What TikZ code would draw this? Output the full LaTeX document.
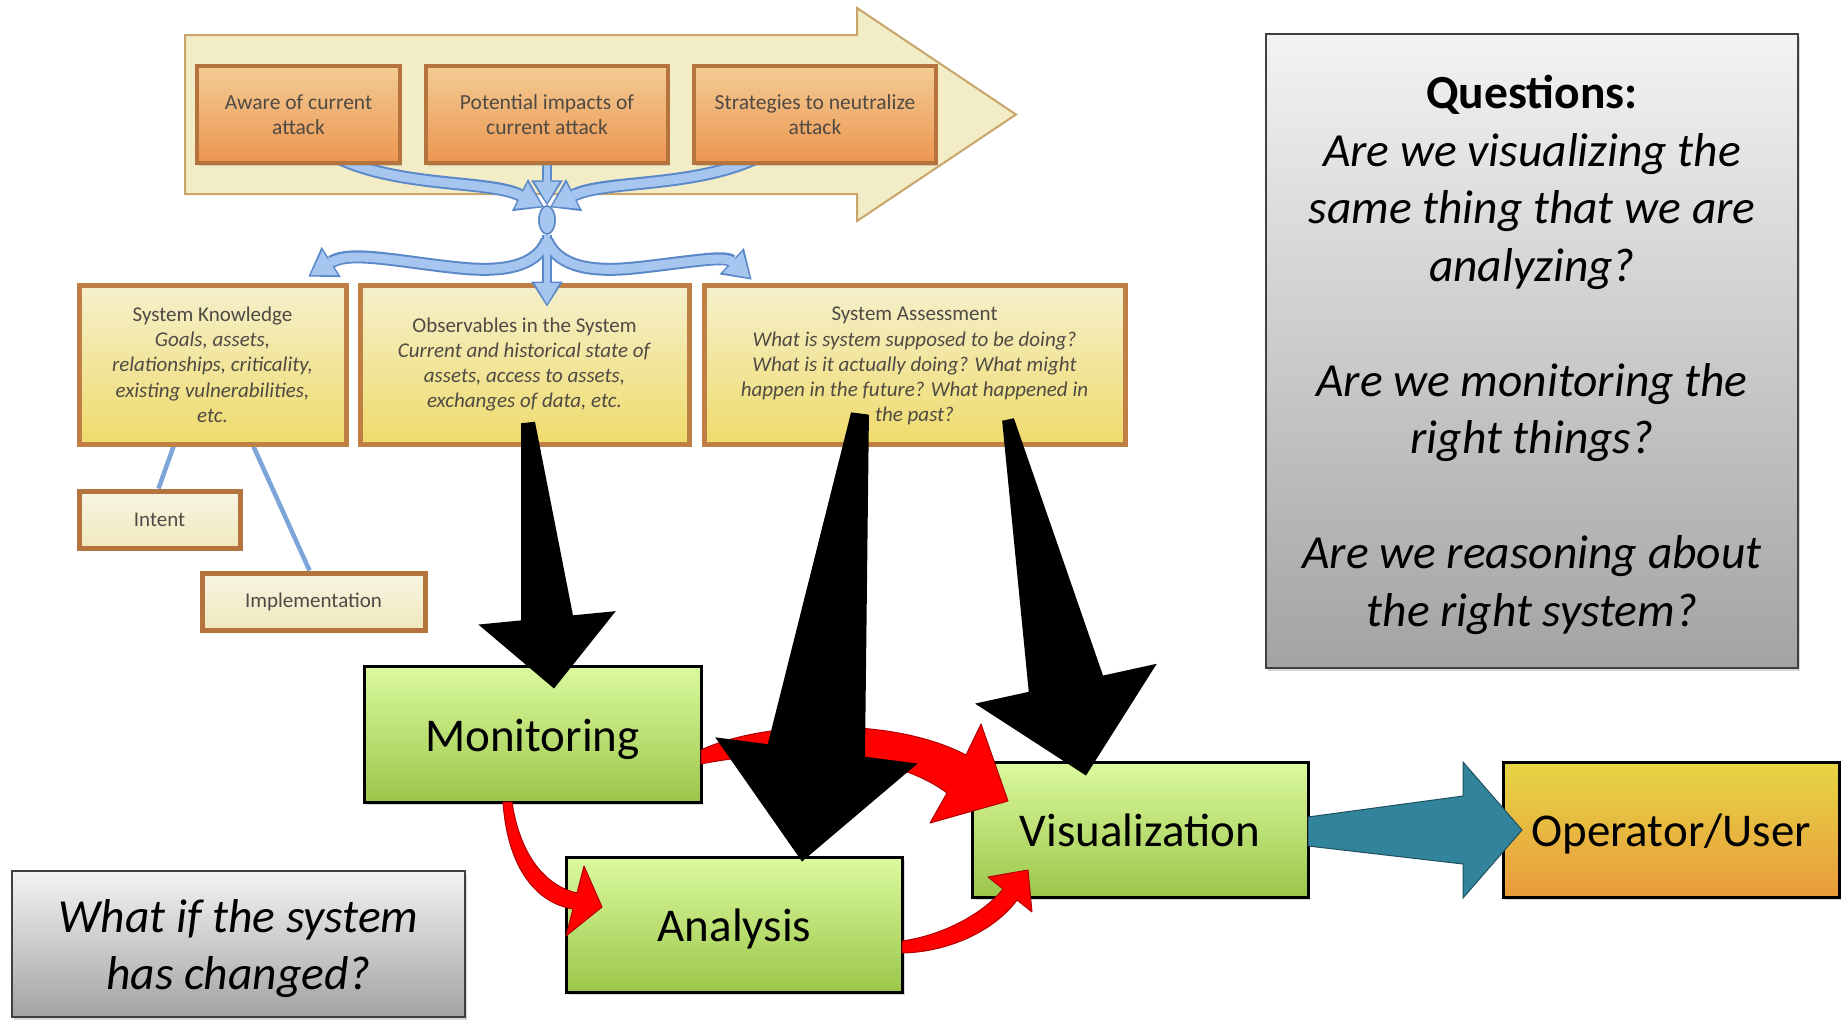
\documentclass[tikz,border=0pt]{standalone}
\usepackage{fontspec}
\setmainfont{Carlito}
\usetikzlibrary{calc,arrows.meta,shadows,shapes.geometric,backgrounds}

\definecolor{arrowfill}{HTML}{F2EDC7}
\definecolor{arrowdraw}{HTML}{C9A56B}
\definecolor{otop}{HTML}{F3CC94}
\definecolor{obot}{HTML}{EC9550}
\definecolor{obrd}{HTML}{B5743E}
\definecolor{ytop}{HTML}{F5F0CC}
\definecolor{ybot}{HTML}{EFDB6C}
\definecolor{ybrd}{HTML}{BF7F45}
\definecolor{ptop}{HTML}{F8F5E2}
\definecolor{pbot}{HTML}{EFE8BD}
\definecolor{bluefill}{HTML}{A6C6F0}
\definecolor{bluedraw}{HTML}{5A88C8}
\definecolor{blueline}{HTML}{7DA5D9}
\definecolor{gtop}{HTML}{DBFA9E}
\definecolor{gbot}{HTML}{9CC64A}
\definecolor{utop}{HTML}{E6D545}
\definecolor{ubot}{HTML}{E99B3B}
\definecolor{tealfill}{HTML}{31849B}
\definecolor{tealdraw}{HTML}{1E5060}
\definecolor{redfill}{HTML}{FF0000}
\definecolor{reddraw}{HTML}{B00000}
\definecolor{qtop}{HTML}{F3F3F3}
\definecolor{qbot}{HTML}{A3A3A3}
\definecolor{qbrd}{HTML}{404040}
\definecolor{txtgray}{HTML}{4F4A44}

% tapered black arrow: start, tip, half width at start, half width at head base,
% half width of head, head length
\newcommand{\fatarrow}[6]{%
  \path (#1) coordinate (fa-s);
  \path (#2) coordinate (fa-t);
  \path ($(fa-t)!#6!(fa-s)$) coordinate (fa-b);
  \fill[black] ($(fa-s)!#3!90:(fa-t)$) -- ($(fa-b)!#4!-90:(fa-s)$)
    -- ($(fa-b)!#5!-90:(fa-s)$) -- (fa-t) -- ($(fa-b)!#5!90:(fa-s)$)
    -- ($(fa-b)!#4!90:(fa-s)$) -- ($(fa-s)!#3!-90:(fa-t)$) -- cycle;}

\begin{document}
\begin{tikzpicture}[x=1pt,y=-1pt,
  softshadow/.style={drop shadow={shadow xshift=2pt,shadow yshift=-3pt,opacity=0.3}},
  bigarrow/.style={fill=arrowfill,draw=arrowdraw,line width=2pt},
  orangebox/.style={draw=obrd,line width=4.5pt,top color=otop,bottom color=obot,
    inner sep=0pt,align=center,text=txtgray,font=\fontsize{21.5}{25}\selectfont,
    minimum height=97pt,softshadow},
  yellowbox/.style={draw=ybrd,line width=5pt,top color=ytop,bottom color=ybot,
    inner sep=0pt,align=center,text=txtgray,font=\fontsize{21}{25.3}\selectfont,
    minimum height=159pt,softshadow},
  palebox/.style={draw=obrd,line width=5pt,top color=ptop,bottom color=pbot,
    inner sep=0pt,align=center,text=txtgray,font=\fontsize{21}{25}\selectfont,
    minimum height=57pt,softshadow},
  greenbox/.style={draw=black,line width=3pt,top color=gtop,bottom color=gbot,
    inner sep=0pt,font=\fontsize{47}{56}\selectfont,text height=34pt,text depth=0pt,
    minimum width=336pt,minimum height=135pt,softshadow},
  userbox/.style={greenbox,top color=utop,bottom color=ubot},
  graybox/.style={draw=qbrd,line width=2pt,top color=qtop,bottom color=qbot,
    inner sep=0pt,softshadow},
  graytext/.style={inner sep=0pt,align=center,font=\fontsize{47.5}{57.5}\selectfont},
  blueouter/.style={line width=13pt,draw=bluedraw,
    -{Triangle[length=27pt,width=36pt,line width=0pt]}},
  blueinner/.style={line width=9pt,draw=bluefill,
    -{Triangle[length=23pt,width=29pt,line width=0pt]},shorten >=2.5pt},
  thinouter/.style={line width=10pt,draw=bluedraw,
    -{Triangle[length=25pt,width=32pt,line width=0pt]}},
  thininner/.style={line width=6pt,draw=bluefill,
    -{Triangle[length=21pt,width=25pt,line width=0pt]},shorten >=2.5pt},
  blueconn/.style={draw=blueline,line width=4.5pt},
  redarrow/.style={fill=redfill,draw=reddraw,line width=1pt,line join=round},
  tealarrow/.style={fill=tealfill,draw=tealdraw,line width=1pt}]

\useasboundingbox (0,0) rectangle (1841,1020);

\begin{scope}[on background layer]
  \fill[white] (0,0) rectangle (1841,1020);
  % large process arrow behind the three attack steps
  \filldraw[bigarrow] (185,35) -- (857,35) -- (857,8) -- (1016,114.5)
    -- (857,221) -- (857,194) -- (185,194) -- cycle;
\end{scope}

% attack steps
\node[orangebox,minimum width=203pt] (aware) at (298.5,114.5) {Aware of current\\attack};
\node[orangebox,minimum width=242pt] (impact) at (547,114.5) {Potential impacts of\\current attack};
\node[orangebox,minimum width=242pt] (strat) at (815,114.5) {Strategies to neutralize\\attack};

% hub where the steps meet
\node[ellipse,draw=bluedraw,fill=bluefill,line width=1.5pt,minimum width=16pt,
  minimum height=28pt,inner sep=0pt] (hub) at (547,220) {};

\begin{scope}[on background layer]
  \coordinate (awareout) at ($(aware.south)+(38,-8)$);
  \coordinate (stratout) at ($(strat.south)+(-57,-8)$);
  \coordinate (impactout) at ($(impact.south)+(0,-8)$);
  \draw[blueouter] (awareout) .. controls (400,188) and (490,180) .. ($(hub.north)+(-3,2)$);
  \draw[blueouter] (stratout) .. controls (694,188) and (604,180) .. ($(hub.north)+(3,2)$);
  \draw[thinouter] (impactout) -- (hub.north);
  \draw[blueinner] (awareout) .. controls (400,188) and (490,180) .. ($(hub.north)+(-3,2)$);
  \draw[blueinner] (stratout) .. controls (694,188) and (604,180) .. ($(hub.north)+(3,2)$);
  \draw[thininner] (impactout) -- (hub.north);
\end{scope}
\node[ellipse,draw=bluedraw,fill=bluefill,line width=1.5pt,minimum width=16pt,
  minimum height=28pt,inner sep=0pt] at (hub) {};

% system views
\node[yellowbox,minimum width=267pt,text depth=0pt] (know) at (212.5,364.5)
  {System Knowledge\\\textit{Goals, assets,}\\\textit{relationships, criticality,}\\
   \textit{existing vulnerabilities,}\\\textit{etc.}};
\node[yellowbox,minimum width=329pt] (obs) at (524.5,364.5)
  {Observables in the System\\\textit{Current and historical state of}\\
   \textit{assets, access to assets,}\\\textit{exchanges of data, etc.}};
\node[yellowbox,minimum width=421pt,text depth=0pt] (assess) at (914.5,364.5)
  {System Assessment\\\textit{What is system supposed to be doing?}\\
   \textit{What is it actually doing? What might}\\
   \textit{happen in the future? What happened in}\\\textit{the past?}};

\node[palebox,minimum width=161pt] (intent) at (159.5,519.5) {Intent};
\node[palebox,minimum width=223pt] (impl) at (313.5,601.5) {Implementation};

\begin{scope}[on background layer]
  \draw[blueconn] ([xshift=97pt]know.south west) -- ([xshift=82pt]intent.north west);
  \draw[blueconn] ([xshift=177pt]know.south west) -- ([xshift=110pt]impl.north west);
\end{scope}

% hub fans out to the three views
\coordinate (hubout) at ($(hub.south)+(0,6)$);
\coordinate (knowin) at ($(know.north)+(96,-6)$);
\coordinate (assessin) at ($(assess.north)+(-163,-3)$);
\coordinate (obsin) at ($(obs.north)+(22.5,24)$);
\draw[blueouter] (hubout) .. controls (535,268) and (500,272) .. (460,268)
  .. controls (400,262) and (350,250) .. (knowin);
\draw[blueouter] (hubout) .. controls (559,268) and (594,272) .. (634,268)
  .. controls (690,262) and (725,255) .. (assessin);
\draw[thinouter] (hub.south) -- (obsin);
\draw[blueinner] (hubout) .. controls (535,268) and (500,272) .. (460,268)
  .. controls (400,262) and (350,250) .. (knowin);
\draw[blueinner] (hubout) .. controls (559,268) and (594,272) .. (634,268)
  .. controls (690,262) and (725,255) .. (assessin);
\draw[thininner] (hub.south) -- (obsin);

% processing chain
\node[greenbox,minimum width=337pt,minimum height=136pt] (mon) at (532.5,734) {Monitoring};
\node[greenbox] (ana) at (734.5,924.5) {Analysis};
\node[greenbox] (vis) at (1140,829.5) {Visualization};
\node[userbox] (user) at (1671,829.5) {Operator/User};

% red flows between processing steps
\filldraw[redarrow] (701,750) .. controls (760,722) and (890,715) .. (966,755)
  -- (981,724) -- (1008,801) -- (930,823) -- (947,793)
  .. controls (890,750) and (780,748) .. (701,764) -- cycle;
\filldraw[redarrow] (503,802) .. controls (507,862) and (532,902) .. (573,909)
  -- (566,936) -- (602,907) -- (584,866) -- (577,893)
  .. controls (546,886) and (520,856) .. (512,802) -- cycle;
\filldraw[redarrow] (902,953) .. controls (950,952) and (995,930) .. (1017,900)
  -- (1032,912) -- (1028,870) -- (988,877) -- (1003,889)
  .. controls (985,912) and (945,935) .. (902,941) -- cycle;

% output to the operator
\filldraw[tealarrow] (1308,817) -- (1463,796) -- (1463,762) -- (1522,830)
  -- (1463,898) -- (1463,864) -- (1308,846) -- cycle;

% views feeding the processing chain
\coordinate (b1s) at ($(obs.south)+(3.5,-24)$);
\coordinate (b1t) at ($(mon.north)+(21.5,24)$);
\coordinate (b2s) at ($(assess.south)+(-54.5,-33)$);
\coordinate (b2t) at ($(ana.north)+(67.5,6)$);
\coordinate (b3s) at ($(assess.south)+(93.5,-27)$);
\coordinate (b3t) at ($(vis.north)+(-54,15)$);
\fatarrow{b1s}{b1t}{7pt}{26pt}{69pt}{71pt}
\fatarrow{b2s}{b2t}{9pt}{49pt}{102pt}{112pt}
\fatarrow{b3s}{b3t}{6pt}{38pt}{93pt}{94pt}

% questions
\node[graybox,minimum width=532pt,minimum height=634pt] (questions) at (1532,351) {};
\node[graytext] (qtext) at ($(questions.center)+(0,4)$)
  {\textbf{Questions:}\\\textit{Are we visualizing the}\\\textit{same thing that we are}\\
   \textit{analyzing?}\\[57.5pt]\textit{Are we monitoring the}\\\textit{right things?}\\[57.5pt]
   \textit{Are we reasoning about}\\\textit{the right system?}};
\node[graybox,minimum width=453pt,minimum height=146pt] (changed) at (238.5,944) {};
\node[graytext] (ctext) at ($(changed.center)+(0,4.5)$)
  {\textit{What if the system}\\\textit{has changed?}};

\end{tikzpicture}
\end{document}
